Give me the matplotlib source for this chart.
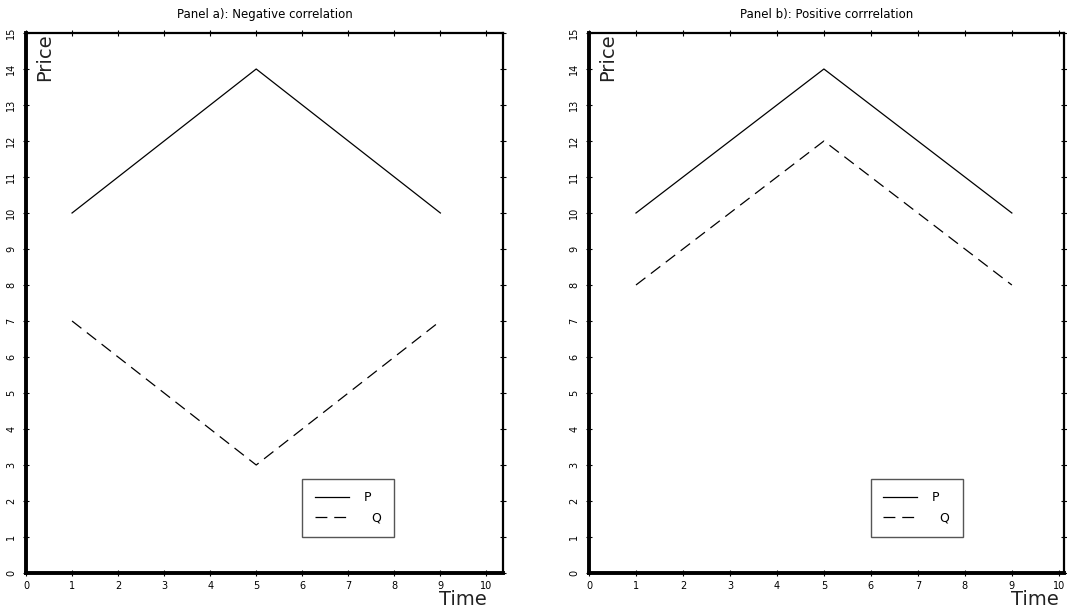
import matplotlib
matplotlib.use("Agg")
import matplotlib.pyplot as plt
from matplotlib.lines import Line2D

# data
time = [1, 5, 9]
price_p = [10, 14, 10]
price_q_neg = [7, 3, 7]
price_q_pos = [8, 12, 8]
panel_titles = ["Panel a): Negative correlation", "Panel b): Positive corrrelation"]
x_ticks = list(range(0, 11))
y_ticks = list(range(0, 16))

W, H = 1067, 608
fig = plt.figure(figsize=(W / 100, H / 100), dpi=100)

# axes boxes in pixels: (left, right, xmax)
boxes = [(26, 503, 10.36), (589, 1064, 10.11)]
top_px, bot_px = 33, 573

DASH = (9.5, 5.5)


def style_axes(ax, xmax):
    ax.set_xlim(0, xmax)
    ax.set_ylim(0, 15)
    ax.set_xticks(x_ticks)
    ax.set_yticks(y_ticks)
    ax.set_yticklabels([str(v) for v in y_ticks], rotation=90, va="center")
    for side in ("left", "bottom"):
        ax.spines[side].set_linewidth(2.8)
    for side in ("top", "right"):
        ax.spines[side].set_linewidth(1.6)
    ax.tick_params(axis="both", which="major", direction="inout", length=4, width=0.8,
                   labelsize=7, top=True, right=True)
    ax.tick_params(axis="x", pad=4)
    ax.tick_params(axis="y", pad=5)


for i, (q_vals, title) in enumerate(zip([price_q_neg, price_q_pos], panel_titles)):
    left, right, xmax = boxes[i]
    ax = fig.add_axes([left / W, 1 - bot_px / H, (right - left) / W, (bot_px - top_px) / H])
    ax.plot(time, price_p, color="black", lw=0.9, label="P")
    ax.plot(time, q_vals, color="black", lw=0.9, dashes=DASH, label="  Q")
    style_axes(ax, xmax)
    ax.set_title(title, fontsize=8.5, pad=11)

    ax.text(0.019, 1.0, "Price", transform=ax.transAxes, rotation=90,
            ha="left", va="top", fontsize=14, color="#222222")
    ax.text(10, -0.06, "Time", transform=ax.get_xaxis_transform(),
            ha="right", va="baseline", fontsize=14, color="#222222")

    handles = [Line2D([], [], color="black", lw=0.9),
               Line2D([], [], color="black", lw=0.9, dashes=DASH)]
    leg = ax.legend(handles, ["P", "  Q"], loc="lower left", bbox_to_anchor=(6, 1),
                    bbox_transform=ax.transData, borderaxespad=0, fontsize=9,
                    handlelength=2.7, handletextpad=1.2, labelspacing=0.6,
                    borderpad=1.0, fancybox=False, framealpha=1, shadow=False)
    leg.get_frame().set_edgecolor("#555555")
    leg.get_frame().set_linewidth(1.0)

fig.savefig("out.png", dpi=100)
